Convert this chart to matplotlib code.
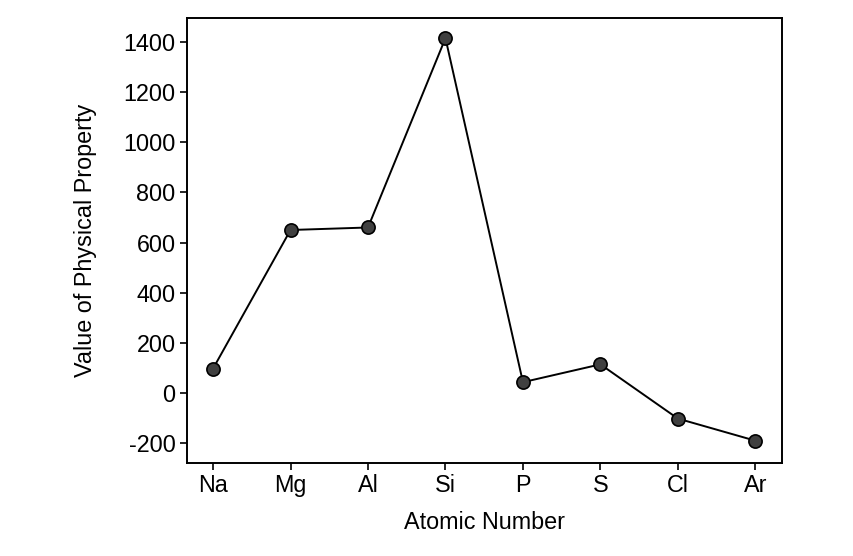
import matplotlib
matplotlib.use("Agg")
import matplotlib.pyplot as plt

elements = ["Na", "Mg", "Al", "Si", "P", "S", "Cl", "Ar"]
values = [98, 650, 660, 1414, 44, 115, -101, -189]
yticks = [-200, 0, 200, 400, 600, 800, 1000, 1200, 1400]

plt.rcParams['font.family'] = ['Liberation Sans', 'DejaVu Sans']

fig = plt.figure(figsize=(8.54, 5.56), dpi=100)
ax = fig.add_axes([186.7/854, 1 - 463.3/556, (781.7-186.7)/854, (463.3-18.3)/556])

x = list(range(len(elements)))
ax.plot(x, values, color='black', linewidth=1.4, marker='o', markersize=9.5,
        markerfacecolor='#404040', markeredgecolor='black', markeredgewidth=1.2, zorder=3)

ax.set_xlim(-0.34, 7.34)
ax.set_ylim(-279, 1493)
ax.set_xticks(x)
ax.set_xticklabels(elements)
ax.set_yticks(yticks)
ax.set_yticklabels([str(v) for v in yticks])
ax.tick_params(axis='both', labelsize=16.8, length=5, width=1.2, color='black', pad=3)
for s in ax.spines.values():
    s.set_linewidth(1.4)
ax.set_xlabel("Atomic Number", fontsize=16.8, labelpad=10)
ax.set_ylabel("Value of Physical Property", fontsize=16.8, labelpad=19)

fig.savefig("out.png", dpi=100)
